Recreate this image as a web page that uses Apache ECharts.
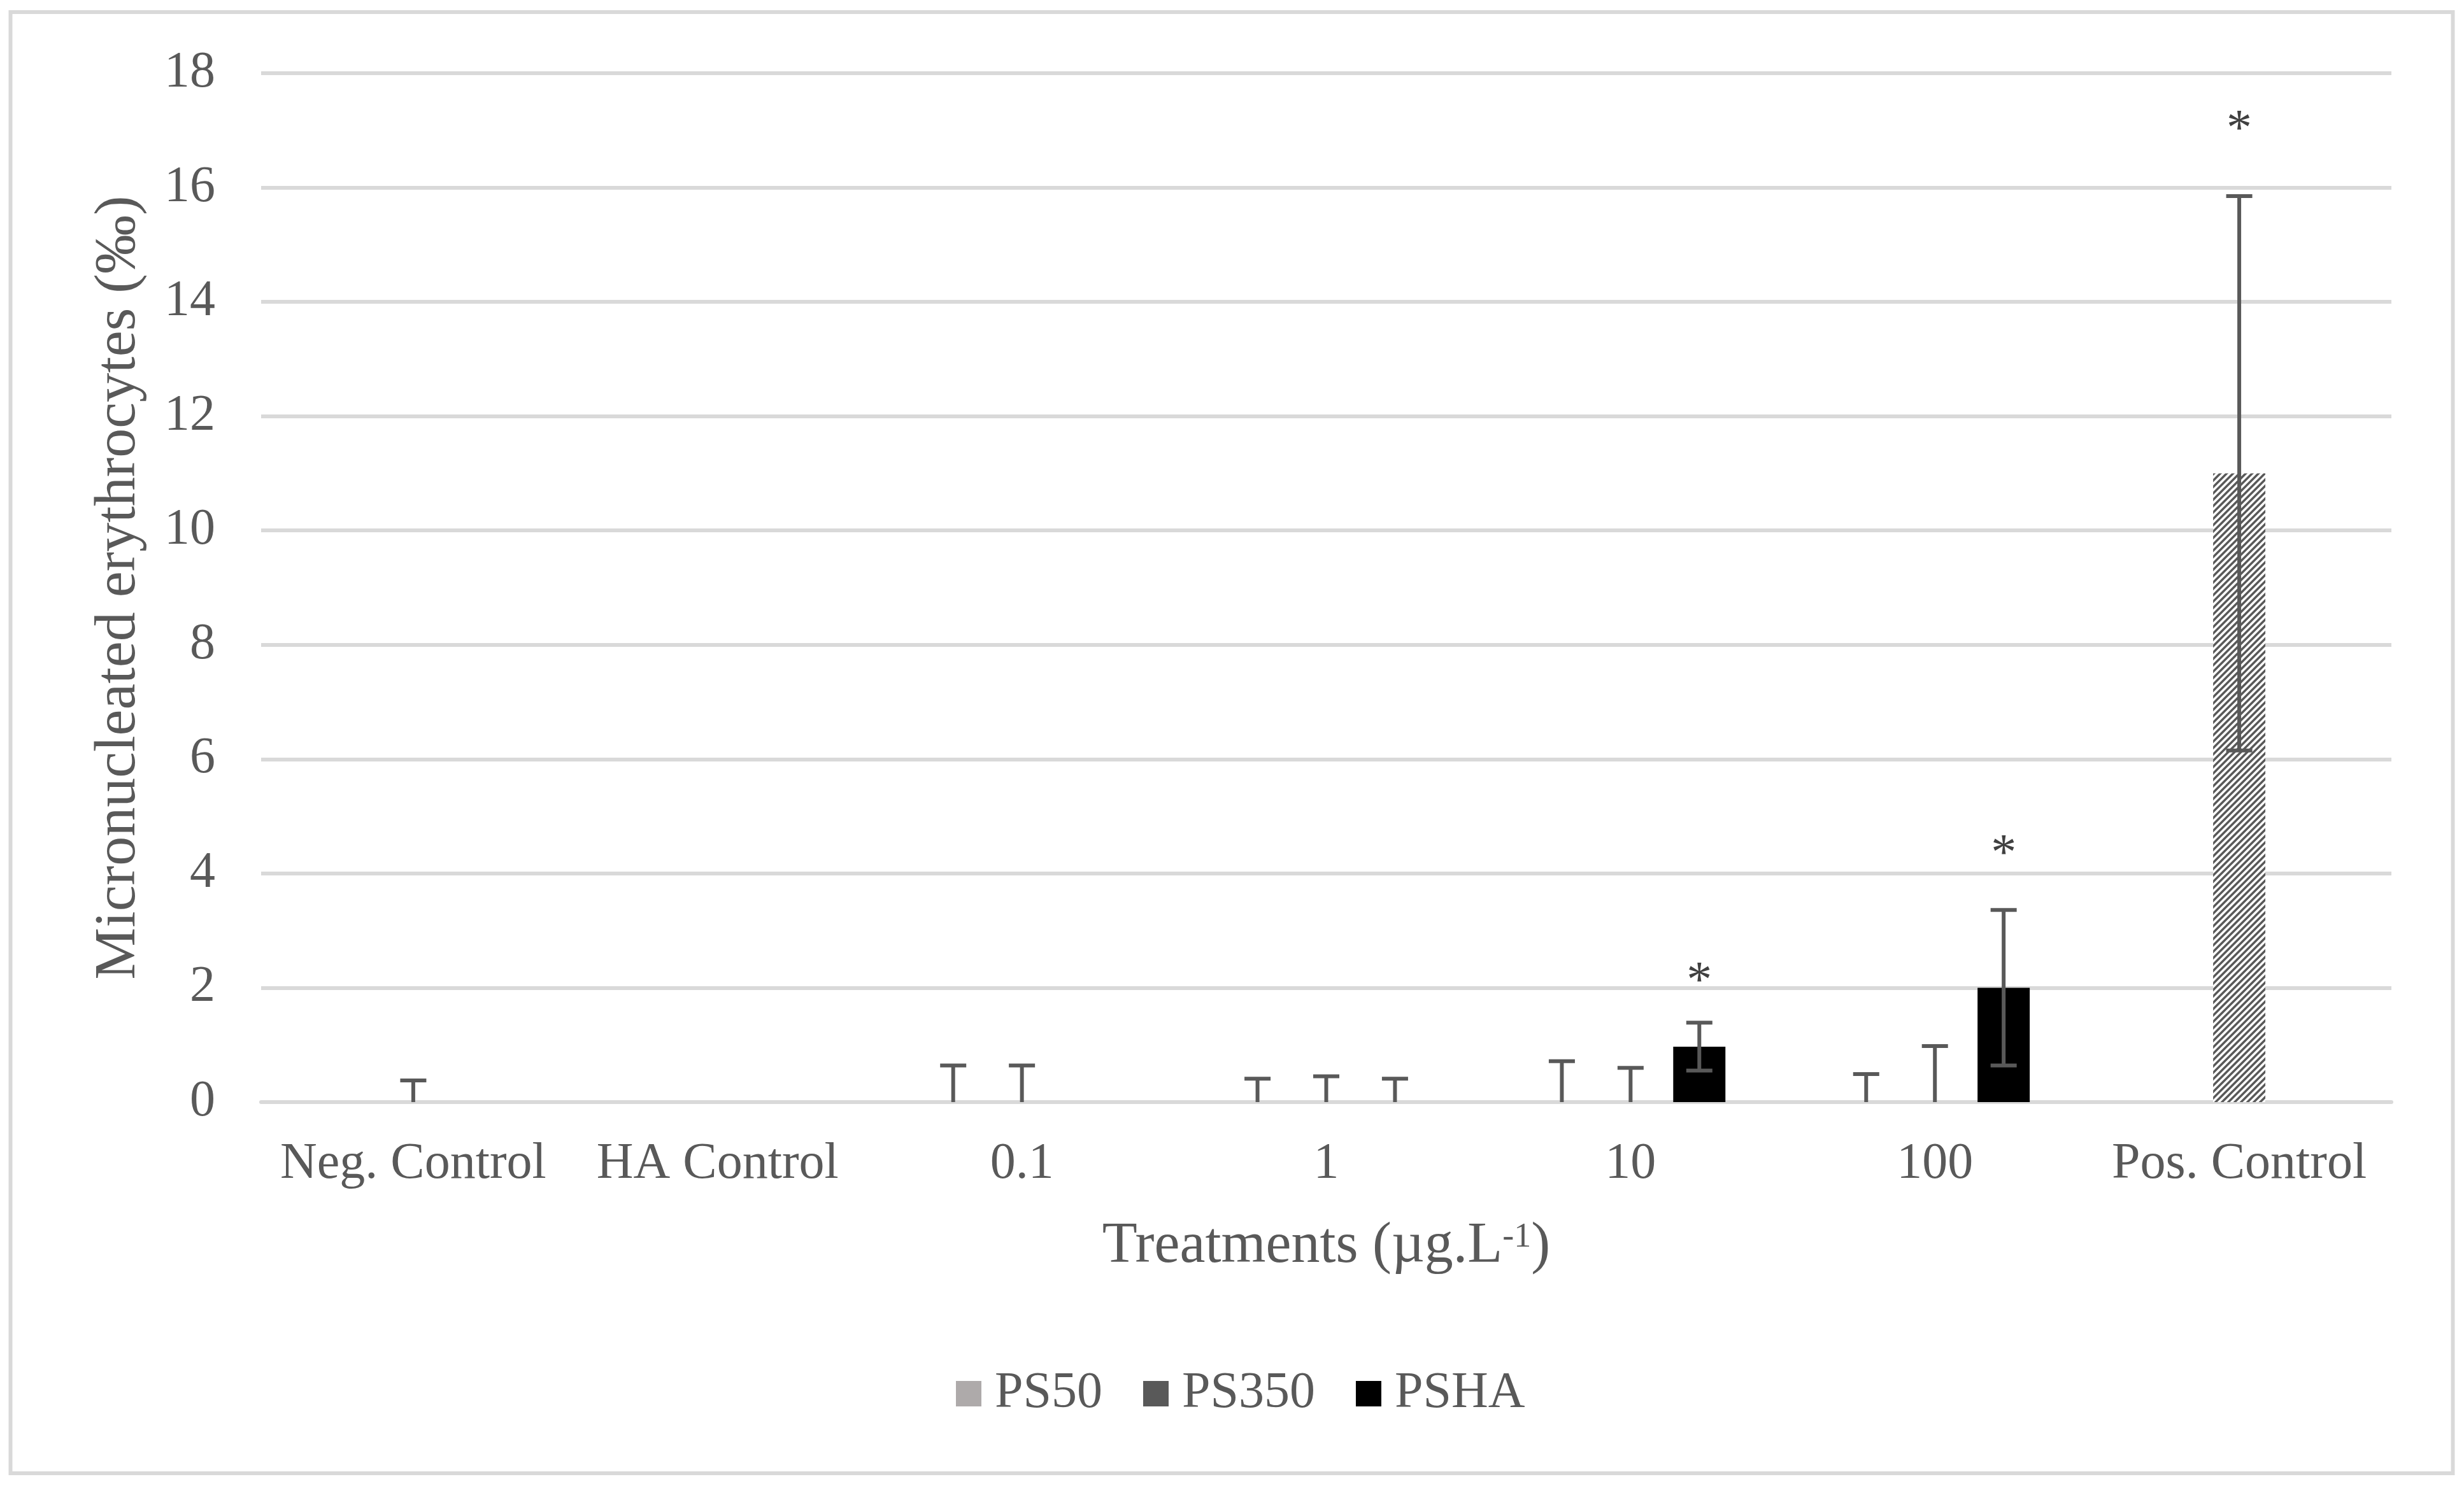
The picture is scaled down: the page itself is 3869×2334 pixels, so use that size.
<!DOCTYPE html>
<html>
<head>
<meta charset="utf-8">
<script src="https://cdn.jsdelivr.net/npm/echarts@6/dist/echarts.min.js"></script>
<style>
html,body{margin:0;padding:0;background:#fff;}
#chart{width:3869px;height:2334px;}
</style>
</head>
<body>
<div id="chart"></div>
<script>
// ---- data ----
const categories = ['Neg. Control', 'HA Control', '0.1', '1', '10', '100', 'Pos. Control'];
const seriesNames = ['PS50', 'PS350', 'PSHA'];
const ps50Mean  = [null, null, 0, 0, 0, 0, null];
const ps50Sd    = [null, null, 0.64, 0.41, 0.715, 0.49, null];
const ps350Mean = [0, null, 0, 0, 0, 0, 11.0];
const ps350Sd   = [0.38, null, 0.64, 0.45, 0.60, 0.98, 4.85];
const pshaMean  = [null, null, 0, 0, 0.97, 2.0, null];
const pshaSd    = [null, null, null, 0.41, 0.42, 1.36, null];
const ps350HatchedCats = [6];
// significance marks: [category index, series index, value]
const stars = [[4, 2, 2.26], [5, 2, 4.49], [6, 1, 17.17]];
const yTicks = {min: 0, max: 18, interval: 2};

// ---- style ----
const FONT = 'Liberation Serif';
const TXT = '#595959';
const GRID_C = '#d9d9d9';
const colors = ['#aeaaaa', '#595959', '#000000'];
const BAR_W = 0.1715;     // fraction of band
const BAR_GAP = 0.317;    // fraction of bar width
const STEP = BAR_W * (1 + BAR_GAP);
const CAP = 0.0429;       // half cap width, fraction of band

function makeHatch() {
  const c = document.createElement('canvas');
  c.width = 10; c.height = 10;
  const ctx = c.getContext('2d');
  ctx.fillStyle = '#ffffff';
  ctx.fillRect(0, 0, 10, 10);
  ctx.strokeStyle = '#595959';
  ctx.lineWidth = 3.5;
  ctx.beginPath();
  ctx.moveTo(-2, 12); ctx.lineTo(12, -2);
  ctx.moveTo(-7, 7); ctx.lineTo(7, -7);
  ctx.moveTo(3, 17); ctx.lineTo(17, 3);
  ctx.stroke();
  return c;
}
const hatch = makeHatch();

const means = [ps50Mean, ps350Mean, pshaMean];
const sds = [ps50Sd, ps350Sd, pshaSd];

const barSeries = seriesNames.map((name, s) => ({
  name: name,
  type: 'bar',
  barWidth: (BAR_W * 100) + '%',
  barGap: (BAR_GAP * 100) + '%',
  itemStyle: {color: colors[s]},
  data: means[s].map((v, i) => {
    if (s === 1 && ps350HatchedCats.indexOf(i) >= 0) {
      return {value: v, itemStyle: {color: {image: hatch, repeat: 'repeat'}}};
    }
    return v;
  }),
  z: 2
}));

const errData = [];
sds.forEach((arr, s) => {
  arr.forEach((sd, i) => {
    if (sd != null && means[s][i] != null) errData.push([i, s, means[s][i], sd]);
  });
});

const errSeries = {
  type: 'custom',
  name: 'err',
  z: 5,
  silent: true,
  encode: {x: 0, y: 2},
  data: errData,
  renderItem: function (params, api) {
    const cat = api.value(0), s = api.value(1), m = api.value(2), sd = api.value(3);
    const band = api.size([1, 0])[0];
    const off = (s - 1) * band * STEP;
    const hw = band * CAP;
    const top = api.coord([cat, m + sd]);
    const lowVal = m - sd;
    const low = api.coord([cat, Math.max(0, lowVal)]);
    const x = top[0] + off;
    const st = {stroke: '#595959', lineWidth: 6};
    const children = [
      {type: 'line', shape: {x1: x, y1: top[1], x2: x, y2: low[1]}, style: st},
      {type: 'line', shape: {x1: x - hw, y1: top[1], x2: x + hw, y2: top[1]}, style: st}
    ];
    if (lowVal >= 0) {
      children.push({type: 'line', shape: {x1: x - hw, y1: low[1], x2: x + hw, y2: low[1]}, style: st});
    }
    return {type: 'group', children: children};
  }
};

const starSeries = {
  type: 'custom',
  name: 'stars',
  z: 6,
  silent: true,
  encode: {x: 0, y: 2},
  data: stars,
  renderItem: function (params, api) {
    const cat = api.value(0), s = api.value(1), v = api.value(2);
    const band = api.size([1, 0])[0];
    const p = api.coord([cat, v]);
    return {
      type: 'text',
      style: {
        x: p[0] + (s - 1) * band * STEP,
        y: p[1] + 16,
        text: '*',
        fill: '#404040',
        font: '80px "' + FONT + '"',
        align: 'center',
        verticalAlign: 'middle'
      }
    };
  }
};

const chart = echarts.init(document.getElementById('chart'));
chart.setOption({
  backgroundColor: '#ffffff',
  animation: false,
  textStyle: {fontFamily: FONT},
  graphic: [{
    type: 'rect',
    shape: {x: 16.5, y: 19, width: 3835, height: 2295},
    style: {fill: 'none', stroke: GRID_C, lineWidth: 6},
    silent: true
  }],
  grid: {left: 410, right: 114, top: 115, bottom: 603},
  legend: {
    data: seriesNames,
    left: 1496,
    top: 2144,
    icon: 'rect',
    itemWidth: 40,
    itemHeight: 40,
    itemGap: 64,
    textStyle: {fontSize: 80, color: TXT, fontFamily: FONT, padding: [0, 0, 0, 16]}
  },
  xAxis: {
    type: 'category',
    data: categories,
    axisTick: {show: false},
    axisLine: {lineStyle: {color: GRID_C, width: 6}},
    axisLabel: {fontSize: 80, color: TXT, fontFamily: FONT, margin: 58, interval: 0},
    name: '{a|Treatments (µg.L}{s|-1}{a|)}',
    nameLocation: 'middle',
    nameGap: 182,
    nameTextStyle: {
      rich: {
        a: {fontSize: 90, color: TXT, fontFamily: FONT},
        s: {fontSize: 54, color: TXT, fontFamily: FONT, verticalAlign: 'top', padding: [4, 0, 0, 0]}
      }
    }
  },
  yAxis: {
    type: 'value',
    min: yTicks.min,
    max: yTicks.max,
    interval: yTicks.interval,
    axisLine: {show: false},
    axisTick: {show: false},
    splitLine: {lineStyle: {color: GRID_C, width: 6}},
    axisLabel: {fontSize: 80, color: TXT, fontFamily: FONT, margin: 72},
    name: 'Micronucleated erythrocytes (‰)',
    nameLocation: 'middle',
    nameRotate: 90,
    nameGap: 177,
    nameTextStyle: {fontSize: 92, color: TXT, fontFamily: FONT}
  },
  series: barSeries.concat([errSeries, starSeries])
});
</script>
</body>
</html>
